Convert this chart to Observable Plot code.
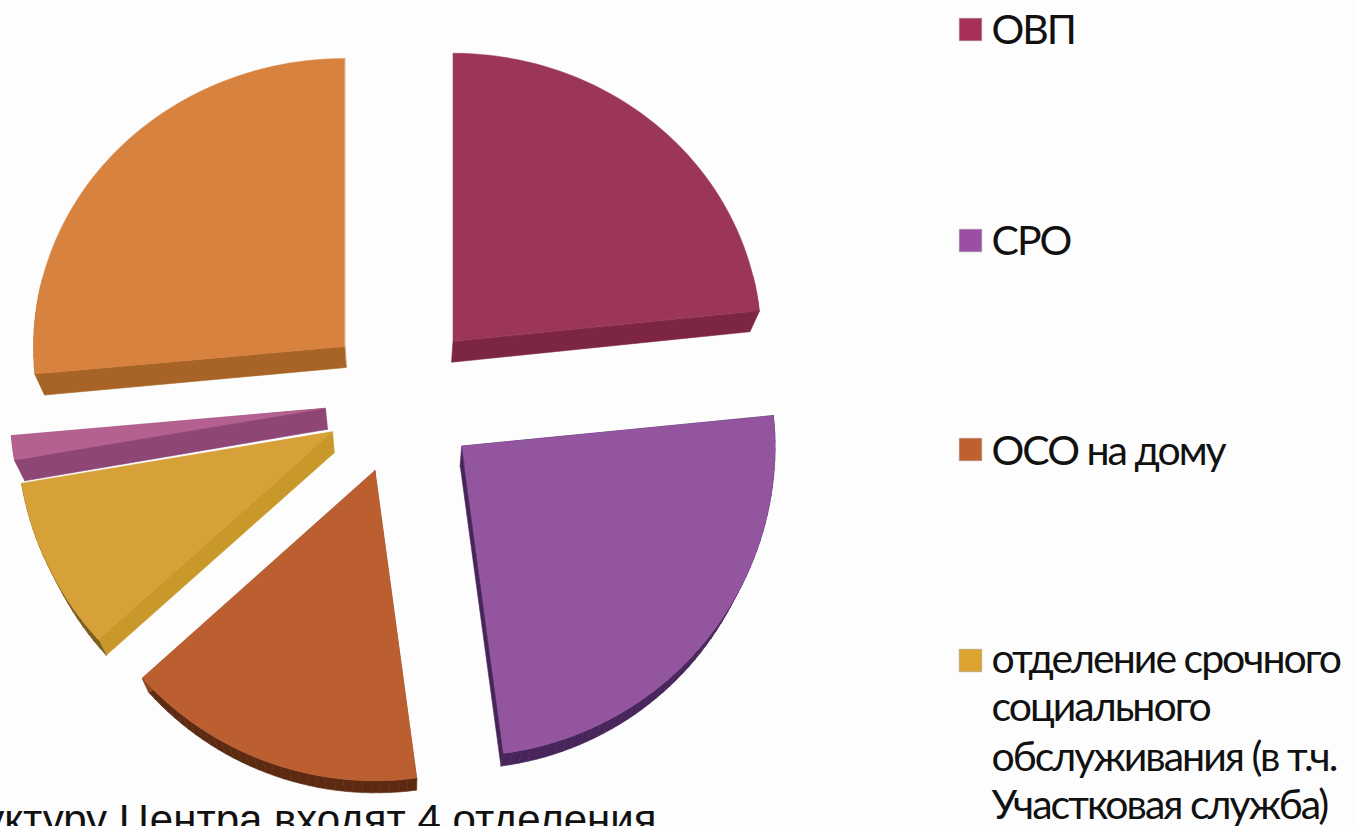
<!DOCTYPE html>
<html><head><meta charset="utf-8">
<script src="https://cdn.jsdelivr.net/npm/d3@7"></script>
<script src="https://cdn.jsdelivr.net/npm/@observablehq/plot@0.6"></script>
<style>
html,body{margin:0;padding:0;background:#fdfdfd;overflow:hidden}
svg{display:block}
.legend-text{letter-spacing:-2px}
</style></head><body><div id="c"></div>
<script>
const categories = ["ОВП","СРО","ОСО на дому","отделение срочного социального обслуживания (в т.ч. Участковая служба)","прочее 1","прочее 2"];
const values = [23.3,24.55,15.45,9,1.25,26.4];
const faceColors = ["#9b3658","#93569e","#bb5f31","#d6a138","#b5618f","#d8823f"];
const edgeColors = ["#7c2545","#47245a","#8f4a24","#c9982a","#8e4674","#a86427"];
const rimColors  = ["#8a2c4e","#47245a","#5c2a10","#7a5a1c","#8e4674","#a86427"];
const legendLabels = ["ОВП","СРО","ОСО на дому","отделение срочного","социального","обслуживания (в т.ч.","Участковая служба)"];
const legendColors = ["#a82f5a","#9a4fa5","#c1602f","#dca331"];

const cx=401, cy=398, explode=77, ryTop=288, ryBottom=310;
const rxBySlice=[308,313,313,315,315,311];
const arcs = d3.pie().sort(null).value(d=>d)(values);
const faces=[], sides=[];
const deep = p => [p[0]-(p[0]-400)*0.027, p[1]+21-Math.max(0,p[1]-450)*0.027];
arcs.forEach((a,i)=>{
  const mid=(a.startAngle+a.endAngle)/2;
  const ox=cx+explode*Math.sin(mid), oy=cy-explode*Math.cos(mid);
  const pts=[[ox,oy]];
  const n=Math.max(3,Math.ceil((a.endAngle-a.startAngle)/0.03));
  for(let k=0;k<=n;k++){
    const t=a.startAngle+(a.endAngle-a.startAngle)*k/n;
    const c=Math.cos(t);
    pts.push([ox+rxBySlice[i]*Math.sin(t), oy-(c>0?ryTop:ryBottom)*c]);
  }
  pts.forEach(p=>faces.push({x:p[0],y:p[1],id:"f"+i,c:faceColors[i]}));
  pts.forEach((p,k)=>{
    const q=pts[(k+1)%pts.length];
    const radial=(k===0||k===pts.length-1);
    if(radial && Math.abs(p[0]-q[0])<1) return;
    if(!radial && oy-p[1]>60 && oy-q[1]>60) return;
    const col=radial?edgeColors[i]:rimColors[i];
    const id=`s${i}_${k}`;
    [p,q,deep(q),deep(p)].forEach(v=>sides.push({x:v[0],y:v[1],id,c:col}));
  });
});
const swatchYs=[29,240,449,660];
const swatches=legendColors.map((c,i)=>({x:970,y:swatchYs[i],c}));
const lineYs=[43,254,464,672,720,770,818];
const lines=legendLabels.map((t,i)=>({t,x:991,y:lineYs[i]}));
const note=[{t:"В структуру Центра входят 4 отделения",x:656,y:833}];

const chart=Plot.plot({
  width:1355,height:826,margin:0,
  x:{domain:[0,1355],range:[0,1355],axis:null},
  y:{domain:[0,826],range:[0,826],axis:null},
  color:{type:"identity"},
  style:{background:"#fdfdfd"},
  marks:[
    Plot.line(sides,{x:"x",y:"y",z:"id",fill:"c",stroke:"c",strokeWidth:0.6,curve:"linear-closed"}),
    Plot.line(faces,{x:"x",y:"y",z:"id",fill:"c",stroke:"c",strokeWidth:0.5,curve:"linear-closed"}),
    Plot.dot(swatches,{x:"x",y:"y",symbol:"square",r:12.7,fill:"c",stroke:"#999",strokeWidth:0.5}),
    Plot.text(lines,{x:"x",y:"y",text:"t",textAnchor:"start",lineAnchor:"bottom",fontSize:41,fontFamily:"Lato",fill:"#111",className:"legend-text"}),
    Plot.text(note,{x:"x",y:"y",text:"t",textAnchor:"end",lineAnchor:"bottom",fontSize:42,fontFamily:"'Liberation Sans'",fill:"#111"})
  ]
});
document.getElementById("c").appendChild(chart);
</script></body></html>
